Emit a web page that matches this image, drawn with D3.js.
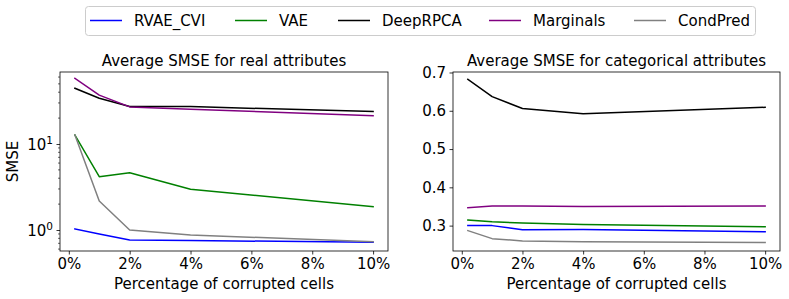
<!DOCTYPE html>
<html><head><meta charset="utf-8">
<script src="https://cdn.jsdelivr.net/npm/d3@7"></script>
<style>
body{margin:0;background:#fff;}
svg{display:block;font-family:"DejaVu Sans",sans-serif;}
</style></head>
<body><svg id="chart" width="789" height="299"></svg>
<script>
const xValues = [0.2, 1, 2, 4, 10];
const seriesNames = ["RVAE_CVI", "VAE", "DeepRPCA", "Marginals", "CondPred"];
const seriesColors = ["blue", "green", "black", "purple", "gray"];
const realRVAE = [1.03, 0.9, 0.765, 0.755, 0.72];
const realVAE = [12.7, 4.17, 4.64, 2.97, 1.87];
const realDeepRPCA = [44.4, 34, 27.3, 27.2, 23.8];
const realMarginals = [58, 37, 27.0, 25.3, 21.3];
const realCondPred = [12.7, 2.17, 1.0, 0.875, 0.73];
const catRVAE = [0.300, 0.300, 0.289, 0.290, 0.284];
const catVAE = [0.3145, 0.310, 0.307, 0.303, 0.297];
const catDeepRPCA = [0.682, 0.637, 0.606, 0.592, 0.609];
const catMarginals = [0.347, 0.351, 0.351, 0.350, 0.351];
const catCondPred = [0.287, 0.266, 0.260, 0.258, 0.256];
const xTicks = [0, 2, 4, 6, 8, 10];
const realYTicks = [1, 10];
const catYTicks = [0.3, 0.4, 0.5, 0.6, 0.7];
const titles = ["Average SMSE for real attributes", "Average SMSE for categorical attributes"];
const xLabel = "Percentage of corrupted cells";
const yLabel = "SMSE";

const realSeries = [realRVAE, realVAE, realDeepRPCA, realMarginals, realCondPred];
const catSeries = [catRVAE, catVAE, catDeepRPCA, catMarginals, catCondPred];

const svg = d3.select("#chart");
const FS = 15;

function drawPanel(left, right, top, bottom, yScaleFactory, series, title, isLog) {
  const g = svg.append("g");
  const x = d3.scaleLinear().domain([-0.29, 10.49]).range([left, right]);
  const y = yScaleFactory([bottom, top]);
  const line = d3.line().x((d, i) => x(xValues[i])).y(d => y(d));
  series.forEach((s, k) => {
    g.append("path").attr("d", line(s)).attr("fill", "none")
      .attr("stroke", seriesColors[k]).attr("stroke-width", 1.5)
      .attr("stroke-linejoin", "round").attr("stroke-linecap", "square");
  });
  // frame
  g.append("rect").attr("x", left).attr("y", top).attr("width", right - left).attr("height", bottom - top)
    .attr("fill", "none").attr("stroke", "black").attr("stroke-width", 0.8);
  // x axis
  const xa = g.append("g").attr("transform", `translate(0,${bottom})`)
    .call(d3.axisBottom(x).tickValues(xTicks).tickFormat(d => d + "%").tickSize(3.5).tickPadding(4));
  xa.select(".domain").remove();
  xa.selectAll("line").attr("stroke", "black").attr("stroke-width", 0.8);
  xa.selectAll("text").attr("font-size", FS).attr("fill", "black").attr("font-family", "DejaVu Sans");
  // y axis
  if (isLog) {
    const ya = g.append("g").attr("transform", `translate(${left},0)`)
      .call(d3.axisLeft(y).tickValues(realYTicks).tickFormat("").tickSize(3.5));
    ya.select(".domain").remove();
    ya.selectAll("line").attr("stroke", "black").attr("stroke-width", 0.8);
    const dom = y.domain();
    const minor = [];
    for (let dec = 0.1; dec <= 100; dec *= 10) {
      for (let m = 2; m <= 9; m++) { const v = m * dec; if (v >= dom[0] && v <= dom[1]) minor.push(v); }
    }
    g.selectAll(".minor").data(minor).enter().append("line")
      .attr("x1", left).attr("x2", left - 2).attr("y1", d => y(d)).attr("y2", d => y(d))
      .attr("stroke", "black").attr("stroke-width", 0.6);
    realYTicks.forEach(v => {
      const t = g.append("text").attr("x", left - 7).attr("y", y(v) + 6).attr("text-anchor", "end")
        .attr("font-size", FS).attr("fill", "black");
      t.append("tspan").text("10");
      t.append("tspan").attr("dy", -6).attr("font-size", 10.5).text(String(Math.round(Math.log10(v))));
    });
  } else {
    const ya = g.append("g").attr("transform", `translate(${left},0)`)
      .call(d3.axisLeft(y).tickValues(catYTicks).tickFormat(d3.format(".1f")).tickSize(3.5).tickPadding(3.5));
    ya.select(".domain").remove();
    ya.selectAll("line").attr("stroke", "black").attr("stroke-width", 0.8);
    ya.selectAll("text").attr("font-size", FS).attr("fill", "black").attr("font-family", "DejaVu Sans");
  }
  g.append("text").attr("x", (left + right) / 2).attr("y", 66).attr("text-anchor", "middle")
    .attr("font-size", FS).attr("fill", "black").text(title);
  g.append("text").attr("x", (left + right) / 2).attr("y", 289).attr("text-anchor", "middle")
    .attr("font-size", FS).attr("fill", "black").text(xLabel);
}

drawPanel(60, 388, 72, 251, r => d3.scaleLog().domain([0.57, 68.7]).range(r), realSeries, titles[0], true);
drawPanel(453, 780, 72, 251, r => d3.scaleLinear().domain([0.2337, 0.7013]).range(r), catSeries, titles[1], false);

svg.append("text").attr("transform", "translate(18,161.5) rotate(-90)").attr("text-anchor", "middle")
  .attr("font-size", FS).attr("fill", "black").text(yLabel);

// legend
const leg = svg.append("g");
leg.append("rect").attr("x", 85.5).attr("y", 6.5).attr("width", 670).attr("height", 29).attr("rx", 3)
  .attr("fill", "white").attr("stroke", "#cccccc").attr("stroke-width", 1);
const legLineX = [90, 235, 338, 489, 634];
seriesNames.forEach((n, k) => {
  leg.append("line").attr("x1", legLineX[k]).attr("x2", legLineX[k] + 32).attr("y1", 20.5).attr("y2", 20.5)
    .attr("stroke", seriesColors[k]).attr("stroke-width", 1.5);
  leg.append("text").attr("x", legLineX[k] + 44).attr("y", 26).attr("font-size", FS).attr("fill", "black").text(n);
});
</script></body></html>
